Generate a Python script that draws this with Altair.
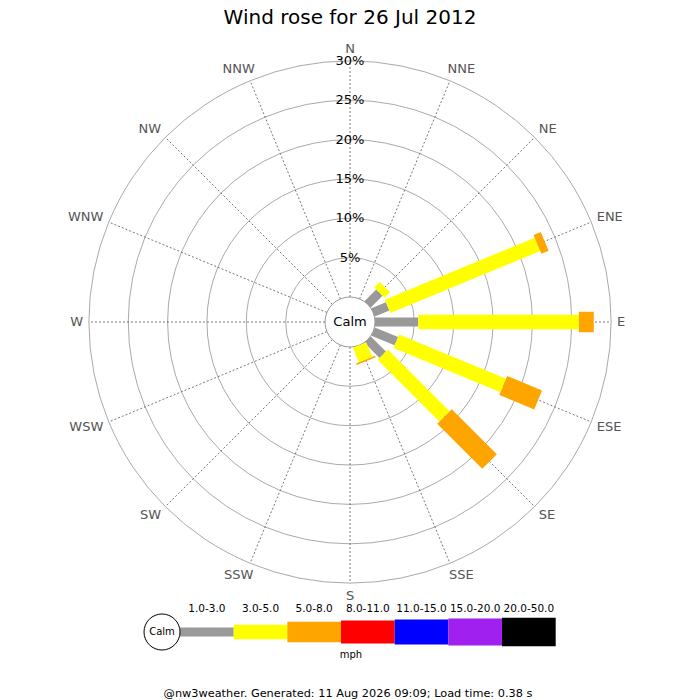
import math
import altair as alt
import pandas as pd

directions = ["N", "NNE", "NE", "ENE", "E", "ESE", "SE", "SSE",
              "S", "SSW", "SW", "WSW", "W", "WNW", "NW", "NNW"]
speed_bins = ["1.0-3.0", "3.0-5.0", "5.0-8.0", "8.0-11.0",
              "11.0-15.0", "15.0-20.0", "20.0-50.0"]
bin_colors = ["#999999", "#ffff00", "#ffa500", "#ff0000",
              "#0000ff", "#a020f0", "#000000"]
bin_widths = [9, 14.5, 20.5, 23, 25, 27, 28.5]

# % of time per direction for each speed bin (mph), N first, clockwise
pct_1_3 = [0, 0, 2.1, 2.0, 5.5, 3.2, 2.7, 0, 0, 0, 0, 0, 0, 0, 0, 0]
pct_3_5 = [0, 0, 1.0, 20.6, 20.4, 14.7, 11.1, 2.0, 0, 0, 0, 0, 0, 0, 0, 0]
pct_5_8 = [0, 0, 0, 1.0, 1.9, 4.8, 8.1, 0.2, 0, 0, 0, 0, 0, 0, 0, 0]
ring_pcts = [5, 10, 15, 20, 25, 30]

title_text = "Wind rose for 26 Jul 2012"
footer_text = "@nw3weather. Generated: 11 Aug 2026 09:09; Load time: 0.38 s"

PX = 7.87            # pixels per 1%
HOLE = 25 / PX       # calm circle radius, in % units
LAB_X = 267 / PX     # compass label anchor (horizontal, side aligned)
LAB_XC = 291 / PX    # compass label anchor (horizontal, centred ones)
LAB_Y = 273.5 / PX   # compass label anchor (vertical)
W = 684
H_ROSE = 572
CY = 290
H_LEG = 96

x_dom = [-W / 2 / PX, W / 2 / PX]
y_dom = [-(H_ROSE - CY) / PX, CY / PX]
xs = alt.Scale(domain=x_dom, nice=False, zero=False)
ys = alt.Scale(domain=y_dom, nice=False, zero=False)
sw_scale = alt.Scale(type="threshold", domain=[0.5, 1.5, 2.5, 3.5, 4.5, 5.5], range=bin_widths)
col_scale = alt.Scale(domain=speed_bins, range=bin_colors)

# stack the bins outward for each direction
rows = []
for i, d in enumerate(directions):
    start = 0
    for j, series in enumerate([pct_1_3, pct_3_5, pct_5_8]):
        v = series[i]
        if v > 0:
            rows.append({"dir": d, "ang": i * math.pi / 8, "bin": speed_bins[j],
                         "k": j, "r0": start, "r1": start + v})
        start += v
bars_df = pd.DataFrame(rows)
dir_df = pd.DataFrame({"dir": directions, "ang": [i * math.pi / 8 for i in range(16)]})
ring_df = pd.DataFrame({"pct": ring_pcts})
calm_df = pd.DataFrame({"label": ["Calm"], "pct": [0]})

# circle symbol: diameter = sqrt(size)
rings = alt.Chart(ring_df).transform_calculate(
    o="0", sz=f"pow(2 * ({HOLE} + datum.pct) * {PX}, 2)"
).mark_point(shape="circle", filled=False, color="#aaaaaa", strokeWidth=1, opacity=1).encode(
    x=alt.X("o:Q", scale=xs, axis=None),
    y=alt.Y("o:Q", scale=ys, axis=None),
    size=alt.Size("sz:Q", scale=None),
)

spokes = alt.Chart(dir_df).transform_calculate(
    sx0=f"{HOLE} * sin(datum.ang)", sy0=f"{HOLE} * cos(datum.ang)",
    sx1=f"({HOLE} + 30) * sin(datum.ang)", sy1=f"({HOLE} + 30) * cos(datum.ang)",
).mark_rule(color="#555555", strokeWidth=0.8, strokeDash=[2, 2]).encode(
    x=alt.X("sx0:Q", scale=xs, axis=None),
    y=alt.Y("sy0:Q", scale=ys, axis=None),
    x2="sx1:Q",
    y2="sy1:Q",
)

calm = alt.Chart(calm_df).transform_calculate(
    o="0", sz=f"pow(2 * ({HOLE} + datum.pct) * {PX}, 2)"
).mark_point(shape="circle", filled=True, fill="white", stroke="#999999", strokeWidth=1, opacity=1).encode(
    x=alt.X("o:Q", scale=xs, axis=None),
    y=alt.Y("o:Q", scale=ys, axis=None),
    size=alt.Size("sz:Q", scale=None),
)

bars = alt.Chart(bars_df).transform_calculate(
    x0=f"({HOLE} + datum.r0) * sin(datum.ang)", y0=f"({HOLE} + datum.r0) * cos(datum.ang)",
    x1=f"({HOLE} + datum.r1) * sin(datum.ang)", y1=f"({HOLE} + datum.r1) * cos(datum.ang)",
).mark_rule(strokeCap="butt").encode(
    x=alt.X("x0:Q", scale=xs, axis=None),
    y=alt.Y("y0:Q", scale=ys, axis=None),
    x2="x1:Q",
    y2="y1:Q",
    color=alt.Color("bin:N", scale=col_scale, legend=None),
    strokeWidth=alt.StrokeWidth("k:Q", scale=sw_scale, legend=None),
)


def compass_labels(side_filter, align, rx):
    return alt.Chart(dir_df).transform_filter(side_filter).transform_calculate(
        lx=f"{rx} * sin(datum.ang)", ly=f"{LAB_Y} * cos(datum.ang)",
    ).mark_text(fontSize=13, color="#555555", align=align, baseline="middle").encode(
        x=alt.X("lx:Q", scale=xs, axis=None),
        y=alt.Y("ly:Q", scale=ys, axis=None),
        text="dir:N",
    )


east_labels = compass_labels("sin(datum.ang) > 0.5", "left", LAB_X)
west_labels = compass_labels("sin(datum.ang) < -0.5", "right", LAB_X)
mid_labels = compass_labels("abs(sin(datum.ang)) <= 0.5", "center", LAB_XC)

pct_labels = alt.Chart(ring_df).transform_calculate(
    rr=f"{HOLE} + datum.pct", o="0", lab="datum.pct + '%'"
).mark_text(fontSize=13, color="black", align="center", baseline="middle").encode(
    x=alt.X("o:Q", scale=xs, axis=None),
    y=alt.Y("rr:Q", scale=ys, axis=None),
    text="lab:N",
)

calm_text = alt.Chart(calm_df).transform_calculate(o="0").mark_text(
    fontSize=13, color="black", align="center", baseline="middle"
).encode(
    x=alt.X("o:Q", scale=xs, axis=None),
    y=alt.Y("o:Q", scale=ys, axis=None),
    text="label:N",
)

rose = alt.layer(rings, spokes, calm, bars, east_labels, west_labels, mid_labels,
                 pct_labels, calm_text).properties(width=W, height=H_ROSE)

# legend strip under the rose
leg_df = pd.DataFrame({"bin": speed_bins, "k": list(range(len(speed_bins)))})
lxs = alt.Scale(domain=[-3.2048, 9.5398], nice=False, zero=False)

leg_bars = alt.Chart(leg_df).transform_calculate(
    lo="datum.k", hi="datum.k + 1"
).mark_rule(strokeCap="butt").encode(
    x=alt.X("lo:Q", scale=lxs, axis=None),
    x2="hi:Q",
    y=alt.value(26),
    color=alt.Color("bin:N", scale=col_scale, legend=None),
    strokeWidth=alt.StrokeWidth("k:Q", scale=sw_scale, legend=None),
)
leg_text = alt.Chart(leg_df).transform_calculate(mid="datum.k + 0.5").mark_text(
    fontSize=10.5, color="black", baseline="middle"
).encode(
    x=alt.X("mid:Q", scale=lxs, axis=None),
    y=alt.value(3),
    text="bin:N",
)
leg_calm = alt.Chart(calm_df).mark_point(
    shape="circle", size=1296, color="black", strokeWidth=1, opacity=1
).encode(x=alt.value(154), y=alt.value(26))
leg_calm_text = alt.Chart(calm_df).mark_text(fontSize=10, color="black", baseline="middle").encode(
    x=alt.value(154), y=alt.value(26), text="label:N"
)
unit_df = pd.DataFrame({"t": ["mph", footer_text], "row": [0, 1]})
mph = alt.Chart(unit_df).transform_filter("datum.row == 0").mark_text(
    fontSize=10, color="black", baseline="middle"
).encode(x=alt.value(343), y=alt.value(49), text="t:N")
footer = alt.Chart(unit_df).transform_filter("datum.row == 1").mark_text(
    fontSize=11.3, color="black", baseline="middle"
).encode(x=alt.value(340), y=alt.value(88), text="t:N")

legend = alt.layer(leg_bars, leg_text, leg_calm, leg_calm_text, mph, footer).properties(
    width=W, height=H_LEG
)

chart = alt.vconcat(rose, legend, spacing=0).properties(
    title=alt.TitleParams(title_text, fontSize=20, fontWeight="normal", anchor="middle",
                          offset=4, color="black"),
    padding=0,
).configure(font="DejaVu Sans").configure_view(strokeWidth=0)

chart.save("out.html", embed_options={"renderer": "svg", "actions": False})
